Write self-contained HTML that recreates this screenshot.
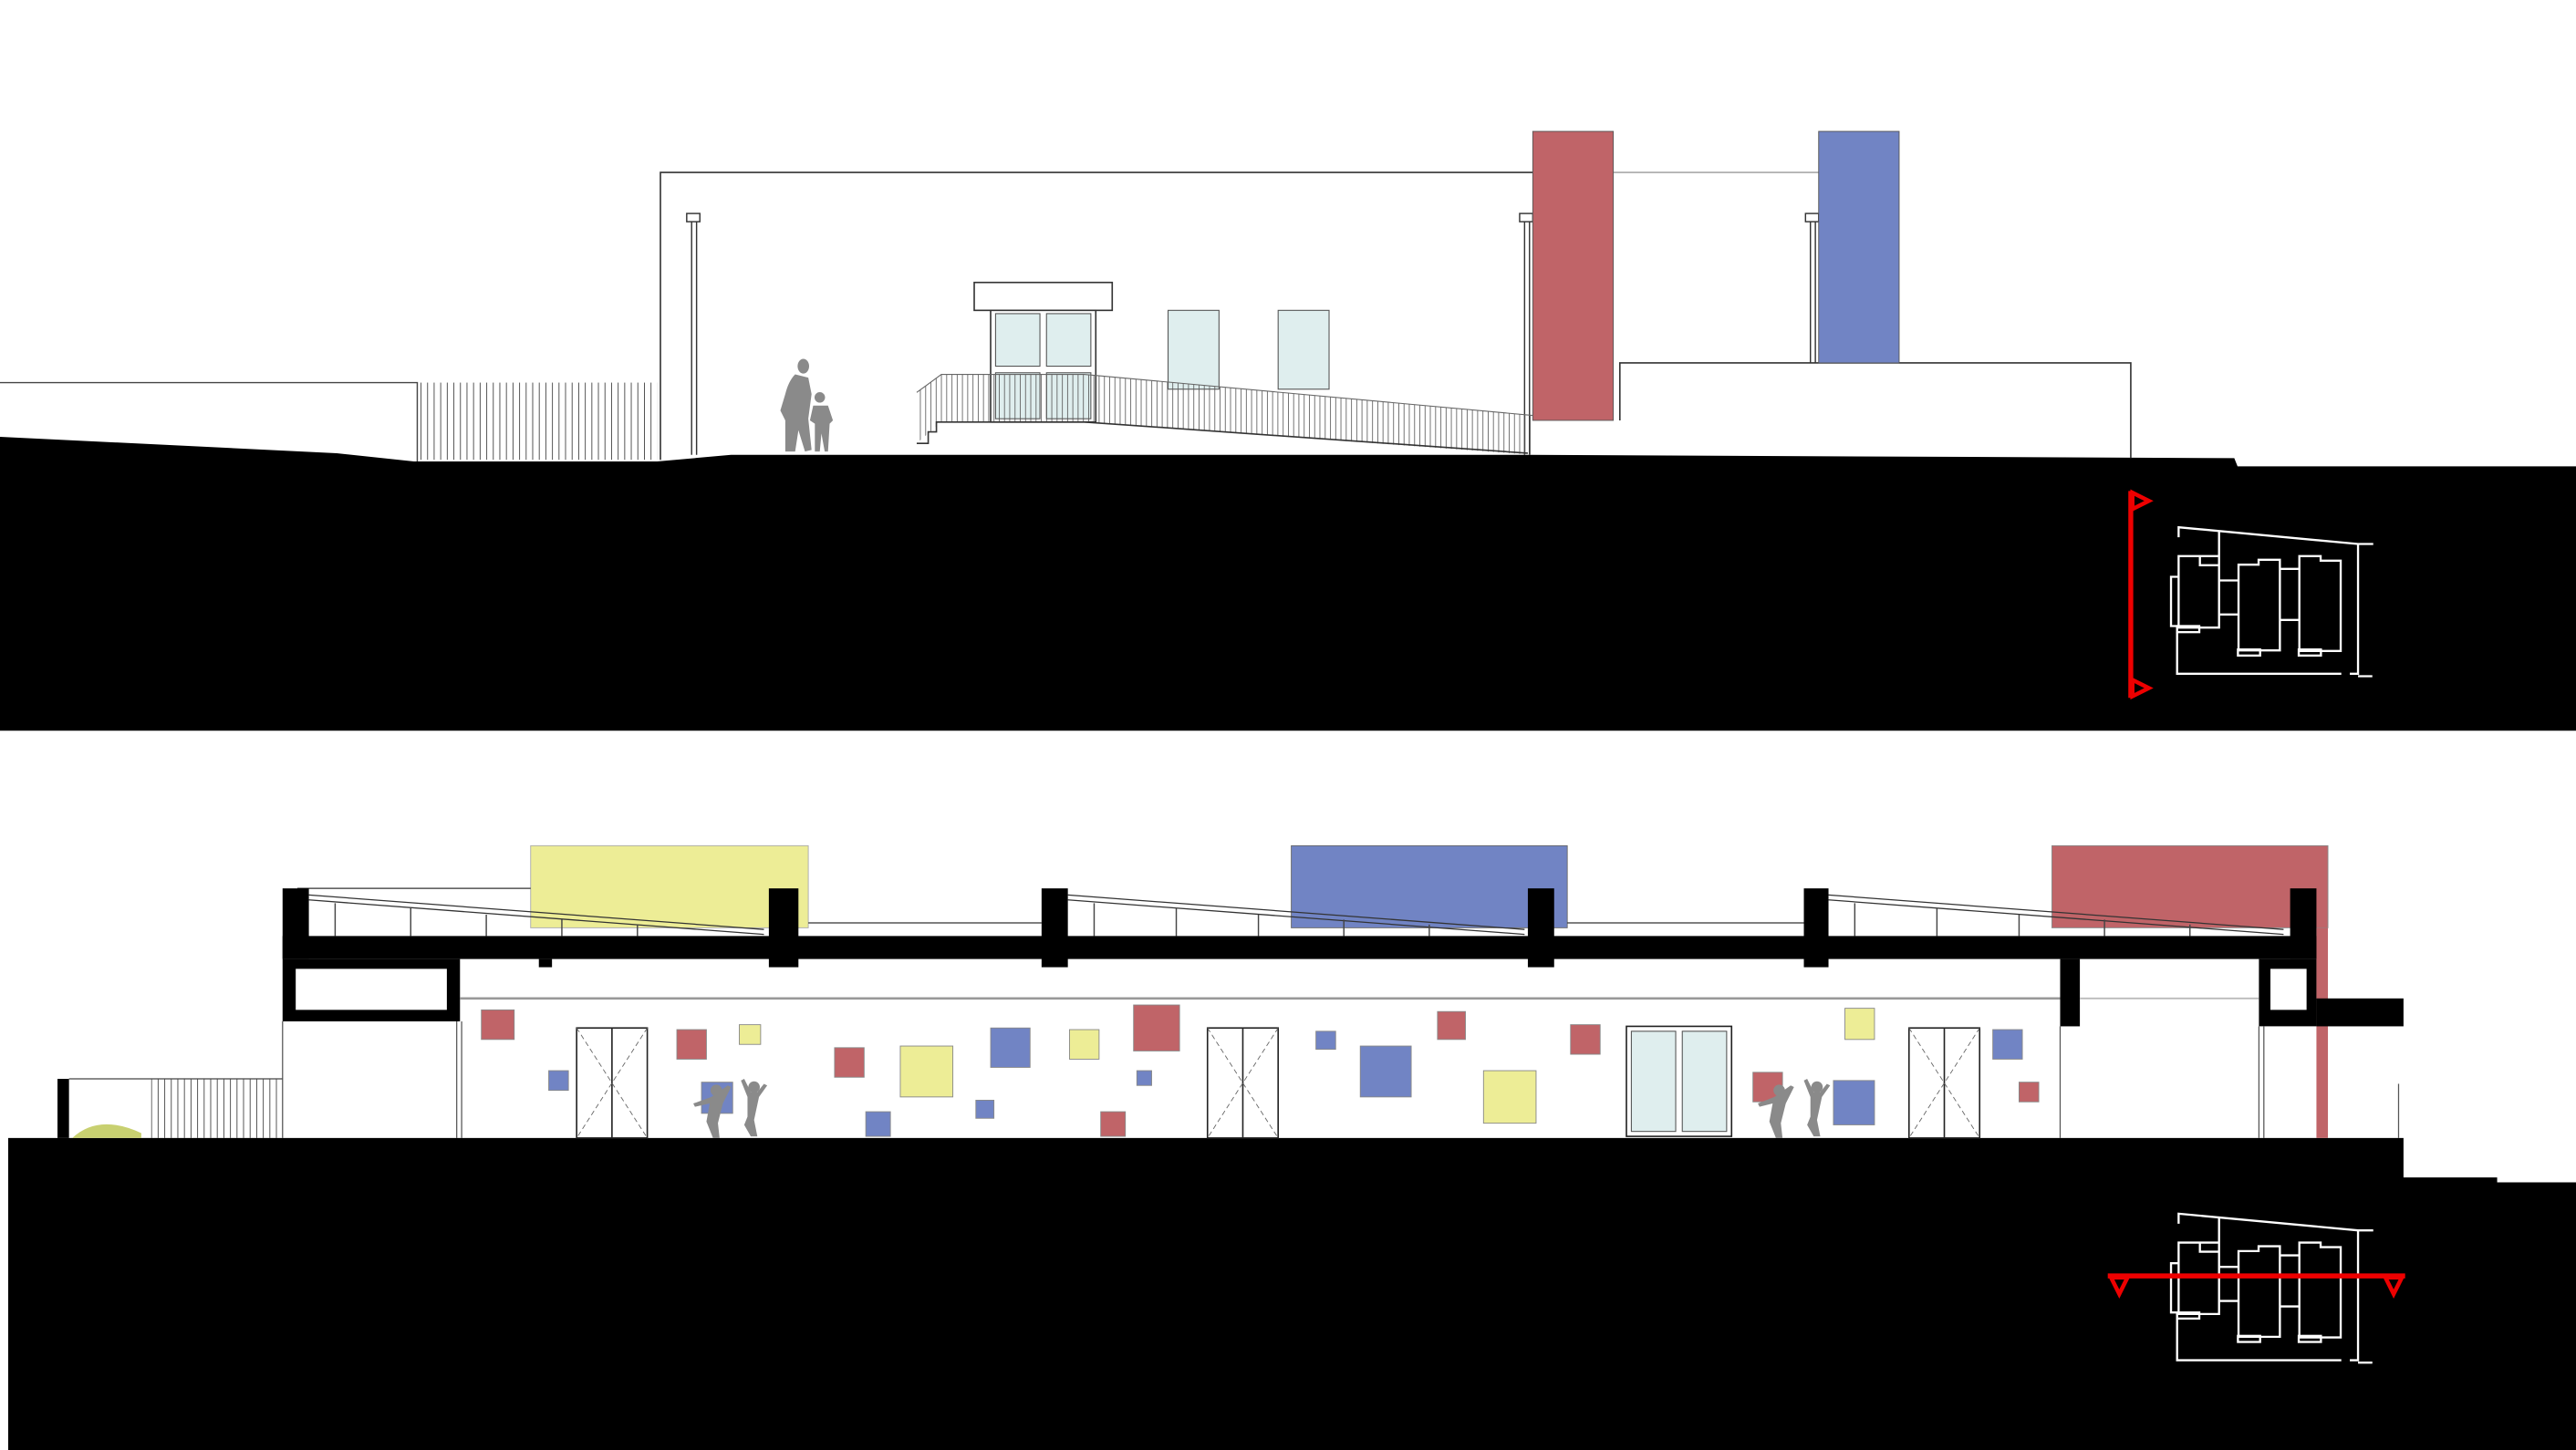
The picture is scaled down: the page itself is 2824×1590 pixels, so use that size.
<!DOCTYPE html>
<html><head><meta charset="utf-8"><style>html,body{margin:0;padding:0;background:#fff}svg{display:block}</style></head>
<body>
<svg width="2824" height="1590" viewBox="0 0 1568 883" preserveAspectRatio="none" xmlns="http://www.w3.org/2000/svg">
<defs>
<pattern id="bars" width="3.2" height="10" patternUnits="userSpaceOnUse"><rect x="0" y="0" width="0.45" height="10" fill="#555"/></pattern>
<pattern id="bars2" width="4" height="10" patternUnits="userSpaceOnUse"><rect x="0" y="0" width="0.5" height="10" fill="#444"/></pattern>
<g id="plan" fill="none" stroke="#fff" stroke-width="7">
<path d="M415,208 V175 L1005,230 H1055"/>
<path d="M548,190 V505 H415 V270 H548"/>
<path d="M485,272 V300 H548"/>
<path d="M415,338 H390 V500 H412"/>
<rect x="410" y="500" width="73" height="20"/>
<path d="M410,520 V657 H950 M978,657 H1005 V230 M1005,665 H1052"/>
<path d="M548,350 H612 M548,462 H612"/>
<path d="M612,298 H678 V282 H748 V580 H612 Z"/>
<rect x="610" y="577" width="73" height="20"/>
<path d="M748,312 H812 M748,480 H812"/>
<path d="M812,270 H882 V285 H948 V582 H812 Z"/>
<rect x="810" y="577" width="73" height="20"/>
</g>
</defs>

<!-- TOP SECTION -->
<path d="M0,266 L205,276 L252,281 L400,281 L445,277 L930,277 L1360,279 L1362,284 L1568,284 L1568,445 L0,445 Z" fill="#000"/>
<path d="M0,233 H254 V281" fill="none" stroke="#444" stroke-width="0.8"/>
<rect x="254" y="233" width="146" height="47" fill="url(#bars2)"/>
<path d="M402,280 V105 H933" fill="none" stroke="#333" stroke-width="0.9"/>
<line x1="982" y1="105" x2="1107" y2="105" stroke="#999" stroke-width="0.8"/>
<g stroke="#333" stroke-width="0.8" fill="#fff">
<line x1="421" y1="135" x2="421" y2="277"/><line x1="424" y1="135" x2="424" y2="277"/>
<rect x="418" y="130" width="8" height="5"/>
<line x1="928" y1="135" x2="928" y2="277"/><line x1="931" y1="135" x2="931" y2="277"/>
<rect x="925" y="130" width="8" height="5"/>
<line x1="1102" y1="135" x2="1102" y2="221"/><line x1="1105" y1="135" x2="1105" y2="221"/>
<rect x="1099" y="130" width="8" height="5"/>
</g>
<path d="M986,256 V221 H1297 V279" fill="none" stroke="#333" stroke-width="0.9"/>
<rect x="933" y="80" width="49" height="176" fill="#c06468" stroke="#555" stroke-width="0.5"/>
<rect x="1107" y="80" width="49" height="141" fill="#7184c4" stroke="#555" stroke-width="0.5"/>
<!-- door -->
<rect x="593" y="172" width="84" height="17" fill="#fff" stroke="#333" stroke-width="0.9"/>
<rect x="603" y="189" width="64" height="68" fill="#fff" stroke="#333" stroke-width="0.9"/>
<g fill="#dfeeee" stroke="#555" stroke-width="0.6">
<rect x="606" y="191" width="27" height="32"/><rect x="637" y="191" width="27" height="32"/>
<rect x="606" y="227" width="27" height="28"/><rect x="637" y="227" width="27" height="28"/>
<rect x="711" y="189" width="31" height="48"/><rect x="778" y="189" width="31" height="48"/>
</g>
<!-- ramp railing -->
<polygon points="558,239 573,228 660,228 933,253 933,277 660,257 573,257 558,270" fill="url(#bars)"/>
<path d="M558,239 L573,228 H660 L933,253" fill="none" stroke="#666" stroke-width="0.6"/>
<path d="M558,270 H565 V263 H570 V257 H660 L930,276" fill="none" stroke="#333" stroke-width="0.9"/>
<!-- people -->
<g fill="#8a8a8a">
<ellipse cx="489" cy="223" rx="3.5" ry="4.5"/>
<path d="M484,228 Q480,232 478,240 L475,250 L478,256 L478,275 L484,275 L486,262 L490,275 L494,274 L492,255 L494,240 L492,230 Z"/>
<circle cx="499" cy="242" r="3.2"/>
<path d="M495,247 L493,256 L496,258 L496,275 L499,275 L500,264 L502,275 L504,275 L505,258 L507,256 L504,247 Z"/>
</g>
<!-- key plan top -->
<g stroke="#e00" fill="none" stroke-width="3">
<line x1="1297" y1="299" x2="1297" y2="425"/>
<polygon points="1298,300 1308,305 1298,310" stroke-width="2.5"/>
<polygon points="1298,414 1308,419 1298,424" stroke-width="2.5"/>
</g>
<g transform="translate(1249.3,288.7) scale(0.1851)"><use href="#plan"/></g>

<!-- BOTTOM SECTION -->
<path d="M5,693 H1463 V717 H1520 V720 H1568 V883 H5 Z" fill="#000"/>
<!-- colored blocks above roof -->
<rect x="323" y="515" width="169" height="50" fill="#eded96" stroke="#aaa" stroke-width="0.5"/>
<rect x="786" y="515" width="168" height="50" fill="#7184c4" stroke="#666" stroke-width="0.5"/>
<rect x="1249" y="515" width="168" height="50" fill="#c06468" stroke="#888" stroke-width="0.5"/>
<rect x="1410" y="565" width="7" height="128" fill="#c06468"/>
<!-- roof line & panels -->
<g fill="none" stroke="#333" stroke-width="0.7">
<path d="M188,545 L465,566 M188,548 L465,569"/>
<path d="M650,545 L928,566 M650,548 L928,569"/>
<path d="M1113,545 L1390,566 M1113,548 L1390,569"/>
<path d="M181,541 H323 M492,562 H634 M954,562 H1098"/>
</g>
<g stroke="#444" stroke-width="0.8">
<line x1="204" y1="550" x2="204" y2="570"/><line x1="250" y1="553" x2="250" y2="570"/><line x1="296" y1="557" x2="296" y2="570"/><line x1="342" y1="560" x2="342" y2="570"/><line x1="388" y1="563" x2="388" y2="570"/>
<line x1="666" y1="550" x2="666" y2="570"/><line x1="716" y1="553" x2="716" y2="570"/><line x1="766" y1="557" x2="766" y2="570"/><line x1="818" y1="560" x2="818" y2="570"/><line x1="870" y1="563" x2="870" y2="570"/>
<line x1="1129" y1="550" x2="1129" y2="570"/><line x1="1179" y1="553" x2="1179" y2="570"/><line x1="1229" y1="557" x2="1229" y2="570"/><line x1="1281" y1="560" x2="1281" y2="570"/><line x1="1333" y1="563" x2="1333" y2="570"/>
</g>
<!-- slab & parapets -->
<g fill="#000">
<rect x="172" y="570" width="1238" height="14"/>
<rect x="172" y="541" width="16" height="43"/>
<rect x="468" y="541" width="18" height="48"/>
<rect x="634" y="541" width="16" height="48"/>
<rect x="930" y="541" width="16" height="48"/>
<rect x="1098" y="541" width="15" height="48"/>
<rect x="1394" y="541" width="16" height="43"/>
<rect x="328" y="584" width="8" height="5"/>
<path d="M172,584 H280 V622 H172 Z M180,590 V615 H272 V590 Z" fill-rule="evenodd"/>
<rect x="1254" y="584" width="12" height="41"/>
<path d="M1375,584 H1410 V625 H1375 Z M1382,590 V615 H1404 V590 Z" fill-rule="evenodd"/>
<rect x="1410" y="608" width="53" height="17"/>
</g>
<line x1="280" y1="608" x2="1254" y2="608" stroke="#999" stroke-width="1.5"/>
<line x1="1266" y1="608" x2="1375" y2="608" stroke="#bbb" stroke-width="1"/>
<g stroke="#555" stroke-width="0.7">
<line x1="172" y1="622" x2="172" y2="693"/><line x1="278" y1="622" x2="278" y2="693"/><line x1="281" y1="622" x2="281" y2="693"/>
<line x1="1254" y1="625" x2="1254" y2="693"/><line x1="1375" y1="625" x2="1375" y2="693"/><line x1="1378" y1="625" x2="1378" y2="693"/>
<line x1="1460" y1="660" x2="1460" y2="693"/>
</g>
<!-- left fence -->
<rect x="35" y="657" width="7" height="36" fill="#000"/>
<line x1="42" y1="657" x2="172" y2="657" stroke="#444" stroke-width="0.7"/>
<rect x="92" y="657" width="80" height="36" fill="url(#bars2)"/>
<path d="M44,693 Q60,678 86,690 V693 Z" fill="#c8d070"/>
<!-- wall squares -->
<g stroke-width="0.5" stroke="#888">
<g fill="#c06468">
<rect x="293" y="615" width="20" height="18"/><rect x="412" y="627" width="18" height="18"/><rect x="508" y="638" width="18" height="18"/>
<rect x="690" y="612" width="28" height="28"/><rect x="670" y="677" width="15" height="15"/><rect x="875" y="616" width="17" height="17"/>
<rect x="956" y="624" width="18" height="18"/><rect x="1067" y="653" width="18" height="18"/><rect x="1229" y="659" width="12" height="12"/>
</g>
<g fill="#7184c4">
<rect x="334" y="652" width="12" height="12"/><rect x="427" y="659" width="19" height="19"/><rect x="603" y="626" width="24" height="24"/>
<rect x="594" y="670" width="11" height="11"/><rect x="527" y="677" width="15" height="15"/><rect x="692" y="652" width="9" height="9"/>
<rect x="801" y="628" width="12" height="11"/><rect x="828" y="637" width="31" height="31"/><rect x="1116" y="658" width="25" height="27"/>
<rect x="1213" y="627" width="18" height="18"/>
</g>
<g fill="#eded96">
<rect x="450" y="624" width="13" height="12"/><rect x="548" y="637" width="32" height="31"/><rect x="651" y="627" width="18" height="18"/>
<rect x="903" y="652" width="32" height="32"/><rect x="1123" y="614" width="18" height="19"/>
</g>
</g>
<!-- doors -->
<g fill="none" stroke="#222" stroke-width="0.9">
<rect x="351" y="626" width="43" height="67"/><line x1="372.5" y1="626" x2="372.5" y2="693"/>
<rect x="735" y="626" width="43" height="67"/><line x1="756.5" y1="626" x2="756.5" y2="693"/>
<rect x="1162" y="626" width="43" height="67"/><line x1="1183.5" y1="626" x2="1183.5" y2="693"/>
</g>
<g fill="none" stroke="#666" stroke-width="0.5" stroke-dasharray="3,2">
<path d="M351,626 L394,693 M394,626 L351,693 M735,626 L778,693 M778,626 L735,693 M1162,626 L1205,693 M1205,626 L1162,693"/>
</g>
<rect x="990" y="625" width="64" height="67" fill="#fff" stroke="#222" stroke-width="0.9"/>
<rect x="993" y="628" width="27" height="61" fill="#dfeeee" stroke="#555" stroke-width="0.6"/>
<rect x="1024" y="628" width="27" height="61" fill="#dfeeee" stroke="#555" stroke-width="0.6"/>
<!-- kids -->
<g fill="#8a8a8a">
<circle cx="436" cy="664" r="3.5"/><path d="M433,668 L422,672 L423,674 L432,672 L430,683 L434,693 L438,693 L437,684 L440,672 L445,662 L443,661 Z"/>
<circle cx="459" cy="662" r="3.5"/><path d="M451,658 L455,668 L455,680 L453,685 L457,692 L461,692 L459,682 L462,668 L467,661 L465,660 L461,665 L457,665 L453,657 Z"/>
<circle cx="1083" cy="664" r="3.5"/><path d="M1080,668 L1070,672 L1071,674 L1079,672 L1077,683 L1081,693 L1085,693 L1084,684 L1087,672 L1092,662 L1090,661 Z"/>
<circle cx="1106" cy="662" r="3.5"/><path d="M1098,658 L1102,668 L1102,680 L1100,685 L1104,692 L1108,692 L1106,682 L1109,668 L1114,661 L1112,660 L1108,665 L1104,665 L1100,657 Z"/>
</g>
<!-- key plan bottom -->
<g transform="translate(1249.3,706.7) scale(0.1851)"><use href="#plan"/></g>
<g stroke="#e00" fill="none" stroke-width="3">
<line x1="1283" y1="777" x2="1464" y2="777"/>
<polygon points="1285,778 1295,778 1290,788" stroke-width="2.5"/>
<polygon points="1452,778 1462,778 1457,788" stroke-width="2.5"/>
</g>
</svg>
</body></html>
